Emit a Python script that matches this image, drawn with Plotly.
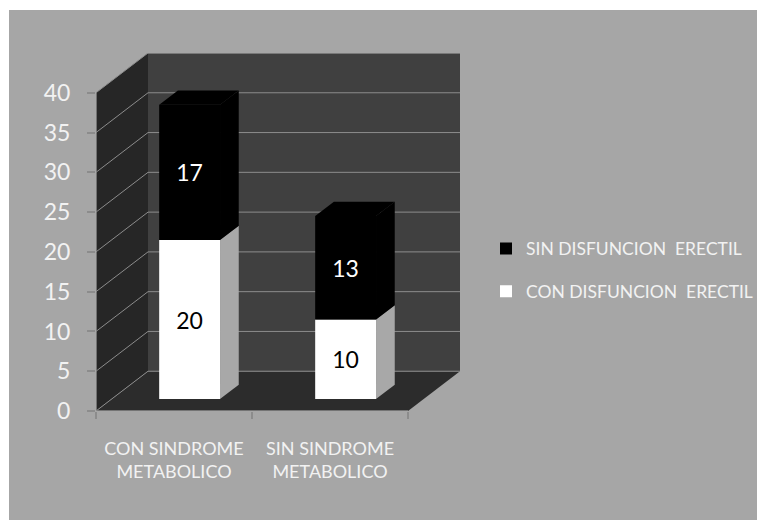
import plotly.graph_objects as go

# ---------------- data ----------------
categories = ["CON SINDROME<br>METABOLICO", "SIN SINDROME<br>METABOLICO"]
series_names = ["CON DISFUNCION  ERECTIL", "SIN DISFUNCION  ERECTIL"]
con_disfuncion = [20, 10]
sin_disfuncion = [17, 13]
y_ticks = [0, 5, 10, 15, 20, 25, 30, 35, 40]

# ---------------- geometry / style ----------------
O = 8                                   # default page body margin
W, H = 765 - O, 520 - O
y_max = y_ticks[-1]
n = len(categories)
x_lo, x_hi = -0.5, n - 0.5
depth_x, depth_y = 1 / 3, 5.0          # box depth (x units, y units)
front_f, bar_g = 0.30, 0.36             # bar front position & bar depth as fraction of box depth
bar_w = 0.39
L, T = 96 - O, 53 - O
px_x = 156.0                            # pixels per category unit
px_y = 7.95                             # pixels per value unit
plot_w = (x_hi - x_lo + depth_x) * px_x
plot_h = (y_max + depth_y) * px_y
R = W - L - plot_w
B = H - T - plot_h

BG = "#a6a6a6"
BACK = "#404040"
SIDE = "#262626"
FLOOR = "#2c2c2c"
GRID = "#8c8c8c"
TXT = "#f2f2f2"
FONT = "Lato"

fig = go.Figure()

def pxx(p):  # page pixel -> paper x
    return (p - O - L) / plot_w

def pxy(p):  # page pixel -> paper y
    return (H - B - (p - O)) / plot_h

shapes = [dict(type="rect", xref="paper", yref="paper", x0=pxx(9), x1=pxx(800),
               y0=pxy(560), y1=pxy(10), fillcolor=BG, line=dict(width=0), layer="below")]

# walls and floor
shapes.append(dict(type="path", xref="x", yref="y", layer="below",
                   path=f"M {x_lo},0 L {x_lo+depth_x},{depth_y} L {x_lo+depth_x},{y_max+depth_y} L {x_lo},{y_max} Z",
                   fillcolor=SIDE, line=dict(width=0)))
shapes.append(dict(type="rect", xref="x", yref="y", layer="below",
                   x0=x_lo + depth_x, x1=x_hi + depth_x, y0=depth_y, y1=y_max + depth_y,
                   fillcolor=BACK, line=dict(width=0)))
shapes.append(dict(type="path", xref="x", yref="y", layer="below",
                   path=f"M {x_lo},0 L {x_hi},0 L {x_hi+depth_x},{depth_y} L {x_lo+depth_x},{depth_y} Z",
                   fillcolor=FLOOR, line=dict(width=0)))
for t in y_ticks:
    shapes.append(dict(type="line", xref="x", yref="y", layer="below",
                       x0=x_lo, y0=t, x1=x_lo + depth_x, y1=t + depth_y,
                       line=dict(color=GRID, width=1)))
    shapes.append(dict(type="line", xref="x", yref="y", layer="below",
                       x0=x_lo + depth_x, y0=t + depth_y, x1=x_hi + depth_x, y1=t + depth_y,
                       line=dict(color=GRID, width=1.5 if t == y_max else 1)))
# front axis lines
shapes.append(dict(type="line", xref="x", yref="y", x0=x_lo, y0=0, x1=x_lo, y1=y_max,
                   line=dict(color=GRID, width=1.5)))
shapes.append(dict(type="line", xref="x", yref="y", x0=x_lo, y0=0, x1=x_hi, y1=0,
                   line=dict(color=GRID, width=1.5)))

# bars: front faces via go.Bar, side/top faces as polygons from the same data
shift_x, lift_y = front_f * depth_x, front_f * depth_y
ddx, ddy = bar_g * depth_x, bar_g * depth_y
xs = [i + shift_x for i in range(n)]
bases_con = [lift_y] * n
bases_sin = [lift_y + c for c in con_disfuncion]

def side_poly(xc, base, val, color):
    xr = xc + bar_w / 2
    fig.add_trace(go.Scatter(x=[xr, xr + ddx, xr + ddx, xr, xr],
                             y=[base, base + ddy, base + val + ddy, base + val, base],
                             fill="toself", fillcolor=color, mode="lines",
                             line=dict(width=0, color=color), showlegend=False, hoverinfo="skip"))

def top_poly(xc, top, color):
    xl, xr = xc - bar_w / 2, xc + bar_w / 2
    fig.add_trace(go.Scatter(x=[xl, xr, xr + ddx, xl + ddx, xl],
                             y=[top, top, top + ddy, top + ddy, top],
                             fill="toself", fillcolor=color, mode="lines",
                             line=dict(width=0, color=color), showlegend=False, hoverinfo="skip"))

for i in range(n):
    side_poly(xs[i], bases_con[i], con_disfuncion[i], "#a8a8a8")
    side_poly(xs[i], bases_sin[i], sin_disfuncion[i], "#000000")
    top_poly(xs[i], bases_sin[i] + sin_disfuncion[i], "#000000")

fig.add_trace(go.Bar(x=xs, y=con_disfuncion, base=bases_con, width=bar_w, name=series_names[0],
                     marker=dict(color="#ffffff", line=dict(width=0)),
                     text=con_disfuncion, textposition="inside", insidetextanchor="middle",
                     textangle=0, constraintext="none",
                     textfont=dict(color="#000000", size=23, family=FONT),
                     legendgroup="a", legendrank=2))
fig.add_trace(go.Bar(x=xs, y=sin_disfuncion, base=bases_sin, width=bar_w, name=series_names[1],
                     marker=dict(color="#000000", line=dict(width=0)),
                     text=sin_disfuncion, textposition="inside", insidetextanchor="middle",
                     textangle=0, constraintext="none",
                     textfont=dict(color="#ffffff", size=23, family=FONT),
                     legendgroup="b", legendrank=1))

# dummy trace for category labels on xaxis2
fig.add_trace(go.Scatter(x=list(range(n)), y=[None] * n, xaxis="x2", yaxis="y",
                         showlegend=False, hoverinfo="skip"))

fig.update_layout(
    width=W, height=H,
    margin=dict(l=L, r=R, t=T, b=B, pad=0, autoexpand=False),
    paper_bgcolor="#ffffff", plot_bgcolor="rgba(0,0,0,0)",
    barmode="overlay", shapes=shapes,
    font=dict(family=FONT, color=TXT),
    xaxis=dict(range=[x_lo, x_hi + depth_x], tickvals=[x_lo + k for k in range(n + 1)],
               ticktext=[""] * (n + 1), ticks="outside", ticklen=7, tickcolor=GRID, tickwidth=1.5,
               showgrid=False, zeroline=False, showline=False, fixedrange=True),
    xaxis2=dict(range=[x_lo, x_hi + depth_x], overlaying="x", anchor="y", side="bottom",
                tickvals=list(range(n)), ticktext=categories, ticks="",
                ticklabelstandoff=25, tickfont=dict(size=18, color=TXT, family=FONT),
                showgrid=False, zeroline=False, showline=False),
    yaxis=dict(range=[0, y_max + depth_y], tickvals=y_ticks, ticks="outside", ticklen=8,
               tickcolor=GRID, tickwidth=1.5, tickfont=dict(size=23, color=TXT, family=FONT),
               showgrid=False, zeroline=False, showline=False, ticklabelstandoff=12),
    legend=dict(xref="container", yref="container",
                x=(486 - O) / W, y=1 - (270 - O) / H, xanchor="left", yanchor="middle",
                traceorder="grouped", tracegroupgap=17, itemwidth=30,
                bgcolor="rgba(0,0,0,0)", font=dict(size=17.5, color=TXT, family=FONT)),
    showlegend=True,
)

fig.write_html("out.html", config={"displayModeBar": False})
